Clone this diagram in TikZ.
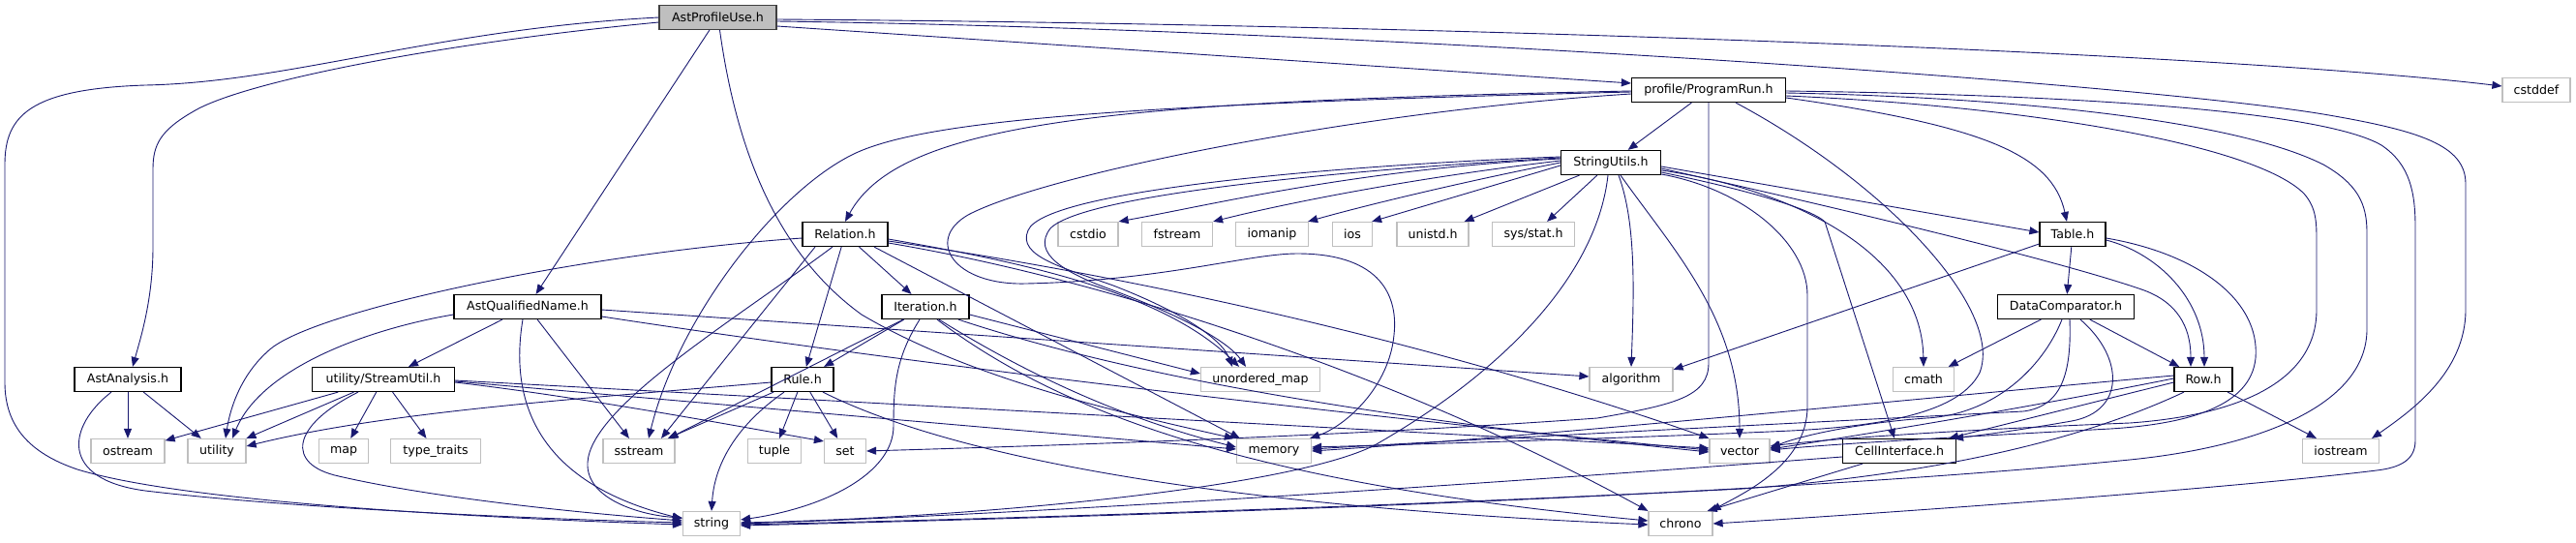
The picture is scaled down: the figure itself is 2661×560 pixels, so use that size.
\documentclass[tikz,border=0pt]{standalone}
\usepackage{fontspec}
\setmainfont{DejaVu Sans}
\usetikzlibrary{arrows.meta}
\definecolor{edgeblue}{HTML}{191970}
\definecolor{extgray}{HTML}{BFBFBF}
\definecolor{rootgray}{HTML}{BFBFBF}
\definecolor{rootborder}{HTML}{404040}
\tikzset{
  nbox/.style={rectangle, minimum height=25pt, inner sep=0pt, font=\fontsize{12.6}{14}\selectfont, text=black},
  proj/.style={nbox, draw=black, line width=1.2pt, fill=white},
  ext/.style={nbox, draw=extgray, line width=1.2pt, fill=white},
  rootbox/.style={nbox, draw=rootborder, line width=1.2pt, fill=rootgray},
  dep/.style={draw=edgeblue, line width=0.9pt, -{Triangle[length=10pt,width=8pt]}},
}
\begin{document}
\begin{tikzpicture}[x=1pt,y=-1pt]
\fill[white] (0,0) rectangle (2661,560);
\useasboundingbox (0,0) rectangle (2661,560);
% nodes
\node[rootbox, minimum width=121pt] (root) at (741.5,18) {AstProfileUse.h};
\node[proj, minimum width=159pt] (prog) at (1765,93) {profile/ProgramRun.h};
\node[ext, minimum width=70pt] (cstddef) at (2620,93) {cstddef};
\node[proj, minimum width=103pt] (su) at (1664,168) {StringUtils.h};
\node[proj, minimum width=88pt] (rel) at (873,242) {Relation.h};
\node[ext, minimum width=62pt] (cstdio) at (1124,242) {cstdio};
\node[ext, minimum width=73pt] (fstream) at (1216,242) {fstream};
\node[ext, minimum width=75pt] (iomanip) at (1314,242) {iomanip};
\node[ext, minimum width=41pt] (ios) at (1397,242) {ios};
\node[ext, minimum width=74pt] (unistd) at (1480,242) {unistd.h};
\node[ext, minimum width=85pt] (sysstat) at (1584,242) {sys/stat.h};
\node[proj, minimum width=68pt] (table) at (2141,242) {Table.h};
\node[proj, minimum width=152pt] (aqn) at (545,317) {AstQualifiedName.h};
\node[proj, minimum width=90pt] (iter) at (956,317) {Iteration.h};
\node[proj, minimum width=141pt] (dc) at (2134,317) {DataComparator.h};
\node[proj, minimum width=110pt] (aa) at (132,392) {AstAnalysis.h};
\node[proj, minimum width=147pt] (stu) at (396,392) {utility/StreamUtil.h};
\node[proj, minimum width=64pt] (rule) at (829,392) {Rule.h};
\node[ext, minimum width=123pt] (umap) at (1302,392) {unordered\_map};
\node[ext, minimum width=86pt] (algo) at (1685,392) {algorithm};
\node[ext, minimum width=63pt] (cmath) at (1987,392) {cmath};
\node[proj, minimum width=60pt] (row) at (2276,392) {Row.h};
\node[ext, minimum width=76pt] (ostream) at (132,466) {ostream};
\node[ext, minimum width=60pt] (utility) at (224,466) {utility};
\node[ext, minimum width=51pt] (map) at (355,466) {map};
\node[ext, minimum width=93pt] (tt) at (450,466) {type\_traits};
\node[ext, minimum width=74pt] (sstream) at (660,466) {sstream};
\node[ext, minimum width=55pt] (tuple) at (800,466) {tuple};
\node[ext, minimum width=43pt] (set) at (873,466) {set};
\node[ext, minimum width=77pt] (memory) at (1316,466) {memory};
\node[ext, minimum width=62pt] (vector) at (1797,466) {vector};
\node[proj, minimum width=117pt] (cell) at (1962,466) {CellInterface.h};
\node[ext, minimum width=79pt] (iostream) at (2418,466) {iostream};
\node[ext, minimum width=59pt] (string) at (735,541) {string};
\node[ext, minimum width=66pt] (chrono) at (1736,541) {chrono};

% AstProfileUse.h
\draw[dep] (root.west) .. controls (450,30) and (300,85) .. (150,88) .. controls (30,92) and (5,120) .. (5,170) -- (5,395) .. controls (5,440) and (30,468) .. (80,485) .. controls (200,522) and (550,537) .. ([yshift=-1pt]string.west);
\draw[dep] ([yshift=-5pt]root.west) .. controls (450,45) and (250,85) .. (200,115) .. controls (165,135) and (158,150) .. (158,175) -- (158,255) .. controls (158,310) and (145,350) .. ([xshift=5pt]aa.north);
\draw[dep] (root) -- (aqn);
\draw[dep] ([xshift=2pt]root.south) .. controls (760,150) and (800,260) .. (890,325) .. controls (1000,390) and (1150,425) .. ([xshift=-2pt]memory.north west);
\draw[dep] ([yshift=-9pt]root.east) -- ([yshift=7pt]prog.west);
\draw[dep] ([yshift=-2pt]root.east) .. controls (1500,25) and (2300,55) .. ([yshift=4pt]cstddef.west);
\draw[dep] ([yshift=-4pt]root.east) .. controls (1400,30) and (2200,85) .. (2400,118) .. controls (2500,135) and (2547,150) .. (2547,190) -- (2547,320) .. controls (2547,385) and (2490,425) .. ([xshift=-8pt]iostream.north east);

% AstAnalysis.h
\draw[dep] (aa) -- (ostream);
\draw[dep] (aa) -- (utility);
\draw[dep] ([xshift=-17pt]aa.south) .. controls (70,440) and (60,495) .. (150,507) .. controls (300,525) and (550,536) .. ([yshift=1pt]string.west);

% utility/StreamUtil.h
\draw[dep] (stu) -- (ostream);
\draw[dep] (stu) -- (utility);
\draw[dep] (stu) -- (map);
\draw[dep] (stu) -- (tt);
\draw[dep] ([xshift=-26pt]stu.south) .. controls (300,440) and (295,480) .. (350,492) .. controls (450,515) and (600,530) .. ([yshift=3pt]string.west);
\draw[dep] ([yshift=-3pt]stu.east) .. controls (600,410) and (760,440) .. ([yshift=-3pt]set.north west);
\draw[dep] ([yshift=-2pt]stu.east) -- ([yshift=2pt]memory.west);
\draw[dep] ([yshift=-1pt]stu.east) -- ([yshift=3pt]vector.west);

% AstQualifiedName.h
\draw[dep] (aqn) -- (stu);
\draw[dep] ([yshift=-8pt]aqn.west) .. controls (380,340) and (270,380) .. ([xshift=16pt]utility.north);
\draw[dep] ([xshift=-5pt]aqn.south) .. controls (525,420) and (560,500) .. ([yshift=5pt]string.west);
\draw[dep] (aqn) -- (sstream);
\draw[dep] ([yshift=-3pt]aqn.east) -- ([yshift=3pt]algo.west);
\draw[dep] ([yshift=-10pt]aqn.east) .. controls (1000,385) and (1500,440) .. ([yshift=1pt]vector.west);

% profile/ProgramRun.h
\draw[dep] (prog) -- (su);
\draw[dep] ([yshift=-1pt]prog.west) .. controls (1150,105) and (930,125) .. (rel.north);
\draw[dep] ([yshift=-2pt]prog.west) .. controls (1150,108) and (950,125) .. (880,160) .. controls (800,200) and (700,330) .. ([xshift=10pt]sstream.north);
\draw[dep] ([yshift=-4pt]prog.west) .. controls (1400,115) and (1080,180) .. (1000,222) .. controls (955,248) and (985,295) .. (1060,293) .. controls (1200,290) and (1290,262) .. (1340,262) .. controls (1420,262) and (1445,300) .. (1440,346) .. controls (1435,400) and (1390,440) .. ([xshift=-2pt]memory.north east);
\draw[dep] (prog.south) -- (1765,375) .. controls (1765,410) and (1730,418) .. (1650,432) .. controls (1400,450) and (1100,460) .. (set.east);
\draw[dep] ([xshift=28pt]prog.south) .. controls (1950,190) and (2070,320) .. (2045,385) .. controls (2025,425) and (1950,440) .. (1850,445) .. controls (1700,452) and (1500,458) .. ([yshift=4pt]memory.east);
\draw[dep] ([yshift=-8pt]prog.east) .. controls (2050,130) and (2120,160) .. ([xshift=-6pt]table.north);
\draw[dep] ([yshift=-3pt]prog.east) .. controls (2050,100) and (2300,120) .. (2400,170) .. controls (2435,190) and (2445,210) .. (2445,240) -- (2445,340) .. controls (2445,420) and (2330,462) .. (2200,475) .. controls (1800,515) and (1100,535) .. ([yshift=-2pt]string.east);
\draw[dep] ([yshift=-1pt]prog.east) .. controls (2150,98) and (2400,115) .. (2460,150) .. controls (2490,170) and (2495,200) .. (2495,235) -- (2495,455) .. controls (2495,475) and (2480,483) .. (2455,486) .. controls (2300,505) and (1950,530) .. (chrono.east);
\draw[dep] ([yshift=-6pt]prog.east) .. controls (2100,110) and (2330,150) .. (2380,200) .. controls (2393,215) and (2393,230) .. (2393,250) -- (2393,320) .. controls (2393,400) and (2300,430) .. (2200,437) .. controls (2050,443) and (1900,452) .. ([yshift=5pt]vector.east);

% Relation.h
\draw[dep] (rel) -- (iter);
\draw[dep] (rel) -- (rule);
\draw[dep] ([yshift=-4pt]rel.west) .. controls (600,262) and (330,320) .. (280,360) .. controls (250,385) and (238,420) .. ([xshift=9pt]utility.north);
\draw[dep] ([xshift=-31pt]rel.south) -- ([xshift=23pt]sstream.north);
\draw[dep] ([xshift=-13pt]rel.south) .. controls (760,330) and (610,420) .. (607,478) .. controls (605,515) and (660,532) .. ([yshift=6pt]string.west);
\draw[dep] ([xshift=30pt]rel.south) -- ([xshift=4pt]memory.north west);
\draw[dep] ([yshift=-5pt]rel.east) .. controls (1050,270) and (1200,300) .. ([xshift=-22pt]umap.north);
\draw[dep] ([yshift=-7pt]rel.east) .. controls (1200,290) and (1500,360) .. (vector.north west);
\draw[dep] ([yshift=-9pt]rel.east) .. controls (1150,290) and (1450,390) .. (chrono.north west);

% Iteration.h
\draw[dep] (iter) -- (rule);
\draw[dep] ([xshift=-23pt]iter.south) -- ([xshift=-7pt]sstream.north east);
\draw[dep] ([xshift=-6pt]iter.south) .. controls (925,370) and (923,400) .. (923,440) .. controls (923,490) and (850,525) .. ([yshift=4pt]string.east);
\draw[dep] ([yshift=-8pt]iter.east) -- ([yshift=6pt]umap.west);
\draw[dep] ([xshift=14pt]iter.south) .. controls (1050,380) and (1150,430) .. ([yshift=4pt]memory.west);
\draw[dep] ([xshift=34pt]iter.south) .. controls (1200,400) and (1500,440) .. ([yshift=-1pt]vector.west);
\draw[dep] ([xshift=12pt]iter.south) .. controls (1100,430) and (1300,500) .. ([yshift=3pt]chrono.west);

% Rule.h
\draw[dep] ([yshift=-3pt]rule.west) .. controls (600,412) and (400,425) .. ([yshift=5pt]utility.east);
\draw[dep] (rule) -- (sstream);
\draw[dep] ([xshift=-19pt]rule.south) .. controls (760,440) and (738,480) .. (string.north);
\draw[dep] (rule) -- (tuple);
\draw[dep] (rule) -- (set);
\draw[dep] ([xshift=21pt]rule.south) .. controls (1000,480) and (1300,525) .. ([yshift=-1pt]chrono.west);

% StringUtils.h
\draw[dep] ([yshift=4pt]su.west) .. controls (1400,175) and (1250,212) .. (cstdio.north east);
\draw[dep] ([yshift=2pt]su.west) .. controls (1450,185) and (1320,212) .. (fstream.north east);
\draw[dep] (su.west) .. controls (1500,190) and (1400,215) .. ([xshift=-1pt]iomanip.north east);
\draw[dep] ([yshift=-3pt]su.west) -- ([xshift=-1pt]ios.north east);
\draw[dep] (su) -- (unistd);
\draw[dep] (su) -- (sysstat);
\draw[dep] ([yshift=6pt]su.west) .. controls (1400,170) and (1080,195) .. (1062,238) .. controls (1050,265) and (1100,277) .. (1150,295) .. controls (1220,322) and (1262,350) .. ([xshift=-29pt]umap.north);
\draw[dep] ([yshift=5pt]su.west) .. controls (1400,175) and (1120,200) .. (1085,236) .. controls (1065,262) and (1100,282) .. (1150,300) .. controls (1230,330) and (1270,355) .. ([xshift=-15pt]umap.north);
\draw[dep] ([xshift=8pt]su.south) .. controls (1690,230) and (1688,300) .. (algo.north);
\draw[dep] ([xshift=10pt]su.south) .. controls (1730,260) and (1797,330) .. (vector.north);
\draw[dep] ([xshift=-3pt]su.south) .. controls (1650,280) and (1560,380) .. (1420,460) .. controls (1330,505) and (1000,535) .. ([yshift=1pt]string.east);
\draw[dep] ([yshift=-4pt]su.east) -- ([yshift=2pt]table.west);
\draw[dep] ([yshift=-6pt]su.east) .. controls (1900,215) and (2130,270) .. (2215,300) .. controls (2255,315) and (2263,345) .. ([xshift=-13pt]row.north);
\draw[dep] ([yshift=-8pt]su.east) .. controls (1850,195) and (1985,260) .. (cmath.north);
\draw[dep] ([yshift=-10pt]su.east) .. controls (1800,195) and (1870,215) .. (1885,229) -- ([xshift=-5pt]cell.north);
\draw[dep] ([yshift=-12pt]su.east) .. controls (1800,195) and (1867,250) .. (1867,305) -- (1867,420) .. controls (1867,480) and (1800,510) .. ([xshift=-2pt]chrono.north east);

% Table.h
\draw[dep] (table) -- (dc);
\draw[dep] ([yshift=-6pt]table.east) .. controls (2230,262) and (2277,310) .. ([xshift=1pt]row.north);
\draw[dep] ([yshift=-10pt]table.west) -- ([yshift=-3pt]algo.north east);
\draw[dep] ([yshift=-4pt]table.east) .. controls (2270,262) and (2335,310) .. (2330,370) .. controls (2325,420) and (2260,438) .. (2180,443) .. controls (2050,450) and (1900,458) .. ([yshift=1pt]vector.east);

% DataComparator.h
\draw[dep] (dc) -- (cmath);
\draw[dep] (dc) -- (row);
\draw[dep] ([xshift=15pt]dc.south) .. controls (2195,370) and (2195,425) .. (2140,435) .. controls (2100,442) and (2060,448) .. ([xshift=-3pt]cell.north east);
\draw[dep] ([xshift=-4pt]dc.south) .. controls (2110,380) and (2060,428) .. (1990,432) .. controls (1920,437) and (1860,450) .. ([yshift=3pt]vector.east);
\draw[dep] ([xshift=4pt]dc.south) .. controls (2140,385) and (2130,420) .. (2090,425) .. controls (1800,440) and (1500,455) .. ([yshift=2pt]memory.east);

% Row.h
\draw[dep] (row) -- (iostream);
\draw[dep] ([yshift=-3pt]row.west) -- ([xshift=-8pt]cell.north east);
\draw[dep] ([yshift=4pt]row.west) .. controls (2000,410) and (1600,450) .. (memory.east);
\draw[dep] ([yshift=1pt]row.west) .. controls (2100,420) and (1950,445) .. ([yshift=2pt]vector.east);
\draw[dep] ([xshift=-20pt]row.south) .. controls (2150,455) and (2000,490) .. (1800,505) .. controls (1400,525) and (1000,537) .. ([yshift=-1pt]string.east);

% CellInterface.h
\draw[dep] ([xshift=-38pt]cell.south) -- ([xshift=-6pt]chrono.north east);
\draw[dep] ([yshift=-6pt]cell.west) .. controls (1600,495) and (1100,530) .. (string.east);
\end{tikzpicture}
\end{document}
